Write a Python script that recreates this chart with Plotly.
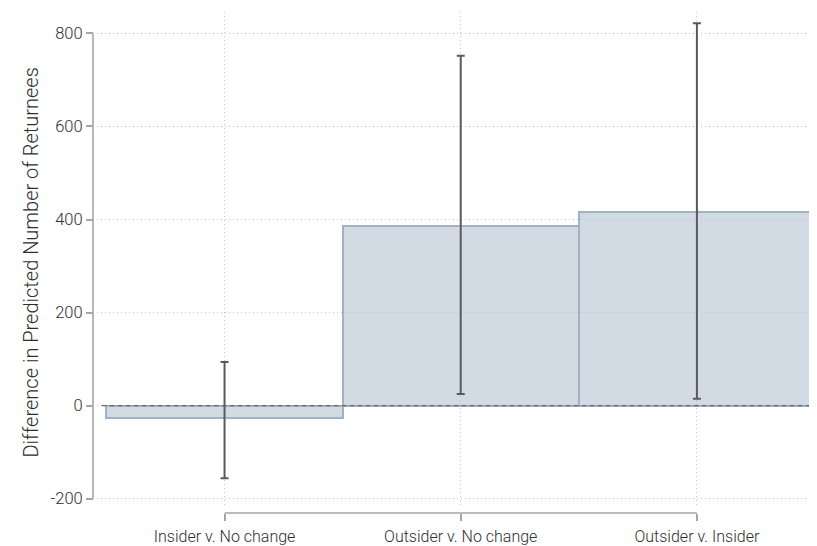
import plotly.graph_objects as go

# ---- data ----
categories = ["Insider v. No change", "Outsider v. No change", "Outsider v. Insider"]
estimates = [-27, 386, 416]
ci_low = [-156, 25, 15]
ci_high = [94, 752, 822]
y_ticks = [-200, 0, 200, 400, 600, 800]
y_title = "Difference in Predicted Number of Returnees"

x_pos = list(range(len(categories)))
err_plus = [h - e for h, e in zip(ci_high, estimates)]
err_minus = [e - l for e, l in zip(estimates, ci_low)]

font_family = "Roboto"
text_color = "#2e2e2e"
axis_color = "#a6a6a6"
grid_color = "#c4c4c4"

fig = go.Figure()
fig.add_trace(go.Bar(
    x=x_pos, y=estimates, width=1.0,
    marker=dict(color="rgba(160,178,198,0.48)",
                line=dict(color="#a2b2c4", width=2)),
    error_y=dict(type="data", symmetric=False, array=err_plus, arrayminus=err_minus,
                 color="#5a5a5a", thickness=2, width=4),
    showlegend=False, hoverinfo="skip",
))

# the page adds an 8px body margin; compensate so the plot lands where the reference has it
OFF = 8
W, H = 817 - OFF, 546 - OFF
ml, mr, mt, mb = 93 - OFF, 2, 12 - OFF, 33
pw = W - ml - mr
ph = H - mt - mb

fig.update_layout(
    template="none",
    width=W, height=H,
    margin=dict(l=ml, r=mr, t=mt, b=mb, pad=0),
    paper_bgcolor="white", plot_bgcolor="white",
    font=dict(family=font_family, size=14, color=text_color),
    bargap=0,
    xaxis=dict(
        domain=[4 / pw, 1], range=[-0.54, 2.5],
        anchor="free", position=0, automargin=False,
        tickmode="array", tickvals=x_pos, ticktext=categories,
        ticks="outside", ticklen=7, tickwidth=1.5, tickcolor=axis_color,
        ticklabelstandoff=2,
        showline=False, zeroline=False,
        showgrid=True, gridcolor=grid_color, griddash="1px,3px", gridwidth=1,
        tickfont=dict(size=16, color=text_color, family=font_family, weight=300),
    ),
    yaxis=dict(
        domain=[5 / ph, 1], range=[-220, 846],
        anchor="free", position=0, automargin=False,
        tickmode="array", tickvals=y_ticks, ticktext=[str(v) for v in y_ticks],
        ticks="outside", ticklen=7, tickwidth=1.5, tickcolor=axis_color,
        showline=False, zeroline=False,
        showgrid=True, gridcolor=grid_color, griddash="1px,3px", gridwidth=1,
        tickfont=dict(size=16.5, color=text_color, family=font_family, weight=300),
    ),
)

# axis lines spanning only the tick range
fig.add_shape(type="line", xref="paper", yref="y", x0=0, x1=0,
              y0=min(y_ticks), y1=max(y_ticks),
              line=dict(color=axis_color, width=1.6), layer="above")
fig.add_shape(type="line", xref="x", yref="paper", x0=min(x_pos), x1=max(x_pos),
              y0=0, y1=0, line=dict(color=axis_color, width=1.6), layer="above")

# dashed reference line at zero
fig.add_shape(type="line", xref="x", yref="y", x0=-0.52, x1=2.5, y0=0, y1=0,
              line=dict(color="#6a6a6a", width=1.4, dash="5px,3px"), layer="above")

# y-axis title
fig.add_annotation(text=y_title, xref="paper", yref="paper",
                   x=(30 - 93) / pw, y=0.5, xanchor="center", yanchor="middle",
                   textangle=-90, showarrow=False,
                   font=dict(size=20, color=text_color, family=font_family, weight=300))

fig.write_html("out.html")
